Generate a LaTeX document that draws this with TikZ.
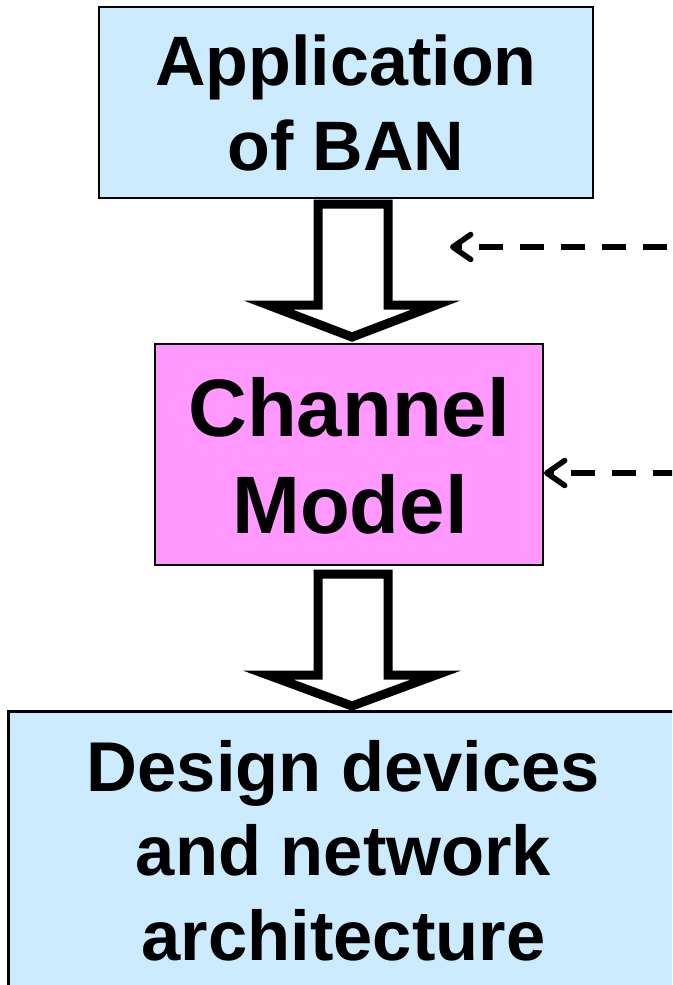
\documentclass[tikz,border=0pt]{standalone}
\usepackage{fontspec}
\setmainfont{Liberation Sans}
\usetikzlibrary{calc,arrows.meta}
\definecolor{lblue}{RGB}{204,235,255}
\definecolor{lpink}{RGB}{255,153,255}
\tikzset{
  box/.style={draw=black, line width=2pt, inner sep=0pt},
  lbl/.style={anchor=base, inner sep=0pt},
  blockarrow/.style={draw=black, fill=white, line width=9pt, line join=miter},
  dasharrow/.style={line width=5.5pt, dash pattern=on 24pt off 17pt, -{Straight Barb[length=18pt,width=25pt,line cap=round,line join=round]}}
}
\begin{document}
\begin{tikzpicture}[x=1pt,y=-1pt]
\useasboundingbox (0,0) rectangle (672,985);
\clip (0,0) rectangle (672,985);
\fill[white] (0,0) rectangle (672,985);
% boxes
\node[box, fill=lblue, minimum width=494pt, minimum height=191pt] (app) at (346,102.5) {};
\node[box, fill=lpink, minimum width=388pt, minimum height=221pt] (chan) at (349,454.5) {};
\node[box, line width=3pt, fill=lblue, minimum width=800pt, minimum height=320pt] (des) at (408,871) {};
% texts
\begin{scope}[font=\bfseries\fontsize{70}{85}\selectfont]
\node[lbl] (app1) at (346,85) {Application};
\node[lbl] (app2) at (346,170) {of BAN};
\end{scope}
\begin{scope}[font=\bfseries\fontsize{81.5}{97}\selectfont]
\node[lbl] (chan1) at (349,436) {Channel};
\node[lbl] (chan2) at (350,533) {Model};
\end{scope}
\begin{scope}[font=\bfseries\fontsize{70.5}{84}\selectfont]
\node[lbl] (des1) at (343.5,791) {Design devices};
\node[lbl] (des2) at (343.5,875) {and network};
\node[lbl] (des3) at (343.5,960) {architecture};
\end{scope}
% block arrows
\draw[blockarrow] ($(app.south)+(-28,5)$) -- ($(app.south)+(-28,106)$) -- ($(app.south)+(-78,106)$)
  -- ($(chan.north)+(3,-6)$) -- ($(app.south)+(90,106)$) -- ($(app.south)+(42,106)$) -- ($(app.south)+(42,5)$) -- cycle;
\coordinate (tip2) at (352,706);
\draw[blockarrow] ($(chan.south)+(-31,8)$) -- ($(chan.south)+(-31,109)$) -- ($(chan.south)+(-81,109)$)
  -- (tip2) -- ($(chan.south)+(87,109)$) -- ($(chan.south)+(39,109)$) -- ($(chan.south)+(39,8)$) -- cycle;
% dashed arrows
\coordinate (d1s) at (676,247);
\coordinate (d1e) at (450,247);
\coordinate (d2s) at (676,473);
\draw[dasharrow, dash phase=32pt] (d1s) -- (d1e);
\draw[dasharrow, dash phase=1pt] (d2s) -- (chan.east |- d2s);
\end{tikzpicture}
\end{document}
